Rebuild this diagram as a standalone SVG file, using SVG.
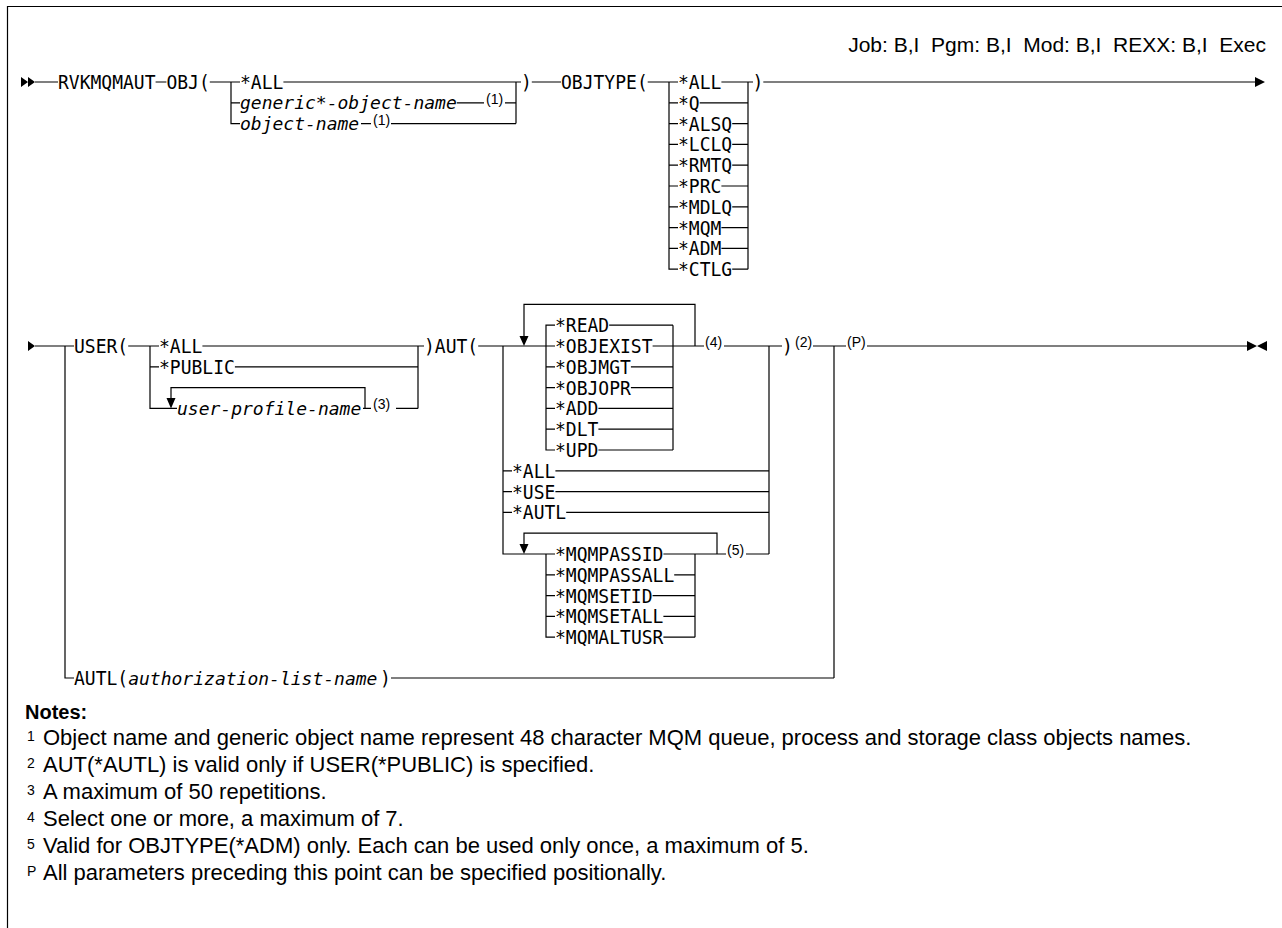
<svg xmlns="http://www.w3.org/2000/svg" width="1282" height="928" viewBox="0 0 1282 928">
<style>
.l{stroke:#000;stroke-width:1.2;fill:none}
.a{fill:#000;stroke:none}
.t{font-family:'DejaVu Sans Mono','Liberation Mono',monospace;font-size:19.5px;fill:#000}
.i{font-style:italic;font-size:18px}
.s{font-family:'Liberation Sans',Arial,sans-serif;font-size:14px;fill:#000}
.n{font-family:'Liberation Sans',Arial,sans-serif;font-size:22px;fill:#000;white-space:pre}
.h{font-family:'Liberation Sans',Arial,sans-serif;font-size:21px;fill:#000;white-space:pre}
.b{font-family:'Liberation Sans',Arial,sans-serif;font-size:20px;font-weight:bold;fill:#000}
</style>
<rect width="1282" height="928" fill="#fff"/>
<g id="frame"><path class="l" d="M7.5,928 V6.5 H1282"/></g>
<text id="header" class="h" x="1266" y="52" text-anchor="end">Job: B,I  Pgm: B,I  Mod: B,I  REXX: B,I  Exec</text>

<g id="connectors">
<path class="l" d="M35,82 H58 M155.6,82 H166.4 M209.8,82 H240 M283.4,82 H521 M231,82 V123.6 H240 M231,102.8 H240 M516,82 V123.6 M456.8,102.8 H484 M505,102.8 H516 M361,123.6 H371 M391,123.6 H516"/>
<path class="l" d="M531.8,82 H561 M647.7,82 H678 M669,82 V269.2 H678 M669,102.8 H678 M669,123.6 H678 M669,144.4 H678 M669,165.2 H678 M669,186 H678 M669,206.8 H678 M669,227.6 H678 M669,248.4 H678 M748,82 V269.2 M721.4,82 H753 M699.7,102.8 H748 M732.2,123.6 H748 M732.2,144.4 H748 M732.2,165.2 H748 M721.4,186 H748 M732.2,206.8 H748 M721.4,227.6 H748 M721.4,248.4 H748 M732.2,269.2 H748 M763.3,82 H1256"/>
<path class="a" d="M21,77 L28,82 L21,87 Z M28,77 L35,82 L28,87 Z M1255,77 L1265,82 L1255,87 Z"/>
<path class="l" d="M35,346 H74 M65,346 V678 H74 M128.2,346 H159 M150,346 V408.4 H177 M150,366.8 H159 M202.4,346 H424 M234.9,366.8 H418 M418,346 V408.4 M171,398 V387.6 H365 V408.4 M363,408.4 H371 M396,408.4 H418"/>
<path class="l" d="M478.2,346 H555 M503,346 V554 H555 M524,336 V304.4 H695 V346 M555,325.2 H546 V450 H555 M546,366.8 H555 M546,387.6 H555 M546,408.4 H555 M546,429.2 H555 M673,325.2 V450 M609.2,325.2 H673 M652.6,346 H704 M630.9,366.8 H673 M630.9,387.6 H673 M598.4,408.4 H673 M598.4,429.2 H673 M598.4,450 H673 M724,346 H782 M769,346 V554 M813,346 H846 M834,346 V678 M867,346 H1247"/>
<path class="l" d="M503,470.8 H512 M503,491.6 H512 M503,512.4 H512 M555.4,470.8 H769 M555.4,491.6 H769 M566.2,512.4 H769 M524,544 V533.2 H717 V554 M546,554 V637.2 H555 M546,574.8 H555 M546,595.6 H555 M546,616.4 H555 M695,554 V637.2 M663.4,554 H726 M746,554 H769 M674.2,574.8 H695 M652.6,595.6 H695 M663.4,616.4 H695 M663.4,637.2 H695 M391,678 H834"/>
<path class="a" d="M28,341 L35,346 L28,351 Z M166.5,398 L175.5,398 L171,408.4 Z M519.5,336 L528.5,336 L524,346 Z M519.5,544 L528.5,544 L524,554 Z M1247,341 L1257,346 L1247,351 Z M1267,341 L1257,346 L1267,351 Z"/>
</g>

<g id="cmd"><text class="t" x="58" y="89" textLength="97.56" lengthAdjust="spacingAndGlyphs">RVKMQMAUT</text></g>
<g id="obj">
<text class="t" x="166.4" y="89" textLength="43.36" lengthAdjust="spacingAndGlyphs">OBJ(</text>
<text class="t" x="240" y="89" textLength="43.36" lengthAdjust="spacingAndGlyphs">*ALL</text>
<text class="t i" x="240" y="109.3">generic*-object-name</text>
<text class="s" x="486" y="103.8">(1)</text>
<text class="t i" x="240" y="130.1">object-name</text>
<text class="s" x="373" y="124.6">(1)</text>
<text class="t" x="521" y="89" textLength="10.84" lengthAdjust="spacingAndGlyphs">)</text>
</g>
<g id="objtype">
<text class="t" x="561" y="89" textLength="86.72" lengthAdjust="spacingAndGlyphs">OBJTYPE(</text>
<text class="t" x="678" y="89" textLength="43.36" lengthAdjust="spacingAndGlyphs">*ALL</text>
<text class="t" x="678" y="109.8" textLength="21.68" lengthAdjust="spacingAndGlyphs">*Q</text>
<text class="t" x="678" y="130.6" textLength="54.2" lengthAdjust="spacingAndGlyphs">*ALSQ</text>
<text class="t" x="678" y="151.4" textLength="54.2" lengthAdjust="spacingAndGlyphs">*LCLQ</text>
<text class="t" x="678" y="172.2" textLength="54.2" lengthAdjust="spacingAndGlyphs">*RMTQ</text>
<text class="t" x="678" y="193" textLength="43.36" lengthAdjust="spacingAndGlyphs">*PRC</text>
<text class="t" x="678" y="213.8" textLength="54.2" lengthAdjust="spacingAndGlyphs">*MDLQ</text>
<text class="t" x="678" y="234.6" textLength="43.36" lengthAdjust="spacingAndGlyphs">*MQM</text>
<text class="t" x="678" y="255.4" textLength="43.36" lengthAdjust="spacingAndGlyphs">*ADM</text>
<text class="t" x="678" y="276.2" textLength="54.2" lengthAdjust="spacingAndGlyphs">*CTLG</text>
<text class="t" x="752.5" y="89" textLength="10.84" lengthAdjust="spacingAndGlyphs">)</text>
</g>
<g id="user">
<text class="t" x="74" y="353" textLength="54.2" lengthAdjust="spacingAndGlyphs">USER(</text>
<text class="t" x="159" y="353" textLength="43.36" lengthAdjust="spacingAndGlyphs">*ALL</text>
<text class="t" x="159" y="373.8" textLength="75.88" lengthAdjust="spacingAndGlyphs">*PUBLIC</text>
<text class="t i" x="177" y="414.9">user-profile-name</text>
<text class="s" x="373" y="409.4">(3)</text>
</g>
<g id="aut">
<text class="t" x="424" y="353" textLength="54.2" lengthAdjust="spacingAndGlyphs">)AUT(</text>
<text class="t" x="555" y="332.2" textLength="54.2" lengthAdjust="spacingAndGlyphs">*READ</text>
<text class="t" x="555" y="353" textLength="97.56" lengthAdjust="spacingAndGlyphs">*OBJEXIST</text>
<text class="t" x="555" y="373.8" textLength="75.88" lengthAdjust="spacingAndGlyphs">*OBJMGT</text>
<text class="t" x="555" y="394.6" textLength="75.88" lengthAdjust="spacingAndGlyphs">*OBJOPR</text>
<text class="t" x="555" y="415.4" textLength="43.36" lengthAdjust="spacingAndGlyphs">*ADD</text>
<text class="t" x="555" y="436.2" textLength="43.36" lengthAdjust="spacingAndGlyphs">*DLT</text>
<text class="t" x="555" y="457" textLength="43.36" lengthAdjust="spacingAndGlyphs">*UPD</text>
<text class="s" x="705" y="347">(4)</text>
<text class="t" x="512" y="477.8" textLength="43.36" lengthAdjust="spacingAndGlyphs">*ALL</text>
<text class="t" x="512" y="498.6" textLength="43.36" lengthAdjust="spacingAndGlyphs">*USE</text>
<text class="t" x="512" y="519.4" textLength="54.2" lengthAdjust="spacingAndGlyphs">*AUTL</text>
<text class="t" x="555" y="561" textLength="108.4" lengthAdjust="spacingAndGlyphs">*MQMPASSID</text>
<text class="t" x="555" y="581.8" textLength="119.24" lengthAdjust="spacingAndGlyphs">*MQMPASSALL</text>
<text class="t" x="555" y="602.6" textLength="97.56" lengthAdjust="spacingAndGlyphs">*MQMSETID</text>
<text class="t" x="555" y="623.4" textLength="108.4" lengthAdjust="spacingAndGlyphs">*MQMSETALL</text>
<text class="t" x="555" y="644.2" textLength="108.4" lengthAdjust="spacingAndGlyphs">*MQMALTUSR</text>
<text class="s" x="727" y="555">(5)</text>
<text class="t" x="782" y="353" textLength="10.84" lengthAdjust="spacingAndGlyphs">)</text>
<text class="s" x="795" y="347">(2)</text>
<text class="s" x="847" y="347">(P)</text>
</g>
<g id="autl">
<text class="t" x="74" y="685" textLength="54.2" lengthAdjust="spacingAndGlyphs">AUTL(</text>
<text class="t i" x="128.2" y="684.5">authorization-list-name</text>
<text class="t" x="380" y="685" textLength="10.84" lengthAdjust="spacingAndGlyphs">)</text>
</g>

<g id="notes">
<text class="b" x="25" y="719">Notes:</text>
<text class="s" x="27" y="741">1</text>
<text class="n" x="43" y="745">Object name and generic object name represent 48 character MQM queue, process and storage class objects names.</text>
<text class="s" x="27" y="768">2</text>
<text class="n" x="43" y="772">AUT(*AUTL) is valid only if USER(*PUBLIC) is specified.</text>
<text class="s" x="27" y="795">3</text>
<text class="n" x="43" y="799">A maximum of 50 repetitions.</text>
<text class="s" x="27" y="822">4</text>
<text class="n" x="43" y="826">Select one or more, a maximum of 7.</text>
<text class="s" x="27" y="849">5</text>
<text class="n" x="43" y="853">Valid for OBJTYPE(*ADM) only. Each can be used only once, a maximum of 5.</text>
<text class="s" x="27" y="876">P</text>
<text class="n" x="43" y="880">All parameters preceding this point can be specified positionally.</text>
</g>
</svg>
